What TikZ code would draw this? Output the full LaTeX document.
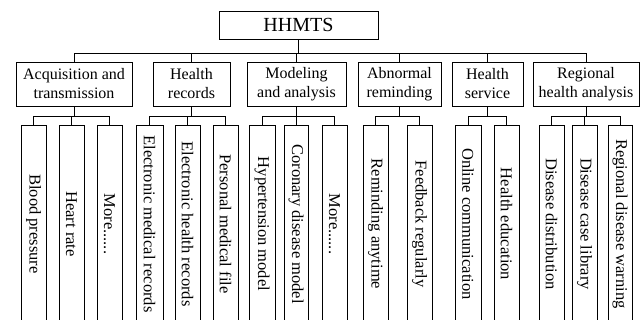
\documentclass[tikz,border=0pt]{standalone}
\usepackage{fontspec}
\setmainfont{Liberation Serif}
\usetikzlibrary{calc}
\begin{document}
\begin{tikzpicture}[x=1pt,y=-1pt,
  box/.style={draw=black,line width=0.8pt,inner sep=0pt,align=center,font=\fontsize{16}{19}\selectfont},
  topbox/.style={box,font=\fontsize{20}{24}\selectfont,minimum width=159pt,minimum height=28pt},
  midbox/.style={box,minimum height=44pt},
  leafbox/.style={box,minimum width=25pt,minimum height=198pt,font=\fontsize{16.5}{19}\selectfont},
  conn/.style={draw=black,line width=0.8pt}]
\useasboundingbox (0,0) rectangle (641,320);
\clip (0,0) rectangle (641,320);
\node[topbox] (root) at (298.5,25) {HHMTS};
% level 2
\node[midbox,minimum width=116pt] (b1) at (74,84) {Acquisition and\\transmission};
\node[midbox,minimum width=77pt] (b2) at (191.5,84) {Health\\records};
\node[midbox,minimum width=99pt] (b3) at (296.5,84) {Modeling\\and analysis};
\node[midbox,minimum width=83pt] (b4) at (399.5,84) {Abnormal\\reminding};
\node[midbox,minimum width=71pt] (b5) at (487.5,84) {Health\\service};
\node[midbox,minimum width=106pt] (b6) at (586,84) {Regional\\health analysis};
\coordinate (busL) at (74,53);
\coordinate (busR) at (586,53);
\draw[conn] (busL) -- (busR);
\draw[conn] (root.south) -- (root.south |- busL);
\foreach \b in {b1,b2,b3,b4,b5,b6} \draw[conn] (\b.north) -- (\b.north |- busL);
% leaves
\node[leafbox] (l11) at (33.5,224) {\rotatebox{-90}{Blood pressure}};
\node[leafbox] (l12) at (71.5,224) {\rotatebox{-90}{Heart rate}};
\node[leafbox] (l13) at (109.5,224) {\rotatebox{-90}{More......}};
\node[leafbox,minimum width=27pt] (l21) at (149.5,224) {\rotatebox{-90}{Electronic medical records}};
\node[leafbox] (l22) at (187.5,224) {\rotatebox{-90}{Electronic health records}};
\node[leafbox] (l23) at (225.5,224) {\rotatebox{-90}{Personal medical file}};
\node[leafbox,minimum width=26pt] (l31) at (262,224) {\rotatebox{-90}{Hypertension model}};
\node[leafbox,minimum width=24pt] (l32) at (296,224) {\rotatebox{-90}{Coronary disease model}};
\node[leafbox] (l33) at (334.5,224) {\rotatebox{-90}{More......}};
\node[leafbox] (l41) at (375.5,224) {\rotatebox{-90}{Reminding anytime}};
\node[leafbox] (l42) at (419.5,224) {\rotatebox{-90}{Feedback regularly}};
\node[leafbox,minimum width=26pt] (l51) at (468,224) {\rotatebox{-90}{Online communication}};
\node[leafbox] (l52) at (506.5,224) {\rotatebox{-90}{Health education}};
\node[leafbox] (l61) at (551.5,224) {\rotatebox{-90}{Disease distribution}};
\node[leafbox] (l62) at (584.5,224) {\rotatebox{-90}{Disease case library}};
\node[leafbox,minimum width=24pt] (l63) at (620,224) {\rotatebox{-90}{Regional disease warning}};
% sub buses
\foreach \p/\first/\last/\all in {
  b1/l11/l13/{l11,l12,l13},
  b2/l21/l23/{l21,l22,l23},
  b3/l31/l33/{l31,l32,l33},
  b4/l41/l42/{l41,l42},
  b5/l51/l52/{l51,l52},
  b6/l61/l63/{l61,l62,l63}}{
  \coordinate (sb-\p) at ($(\p.south)+(0,10)$);
  \draw[conn] (\p.south) -- (sb-\p);
  \draw[conn] (\first.north |- sb-\p) -- (\last.north |- sb-\p);
  \foreach \l in \all \draw[conn] (\l.north |- sb-\p) -- (\l.north);
}
\end{tikzpicture}
\end{document}
